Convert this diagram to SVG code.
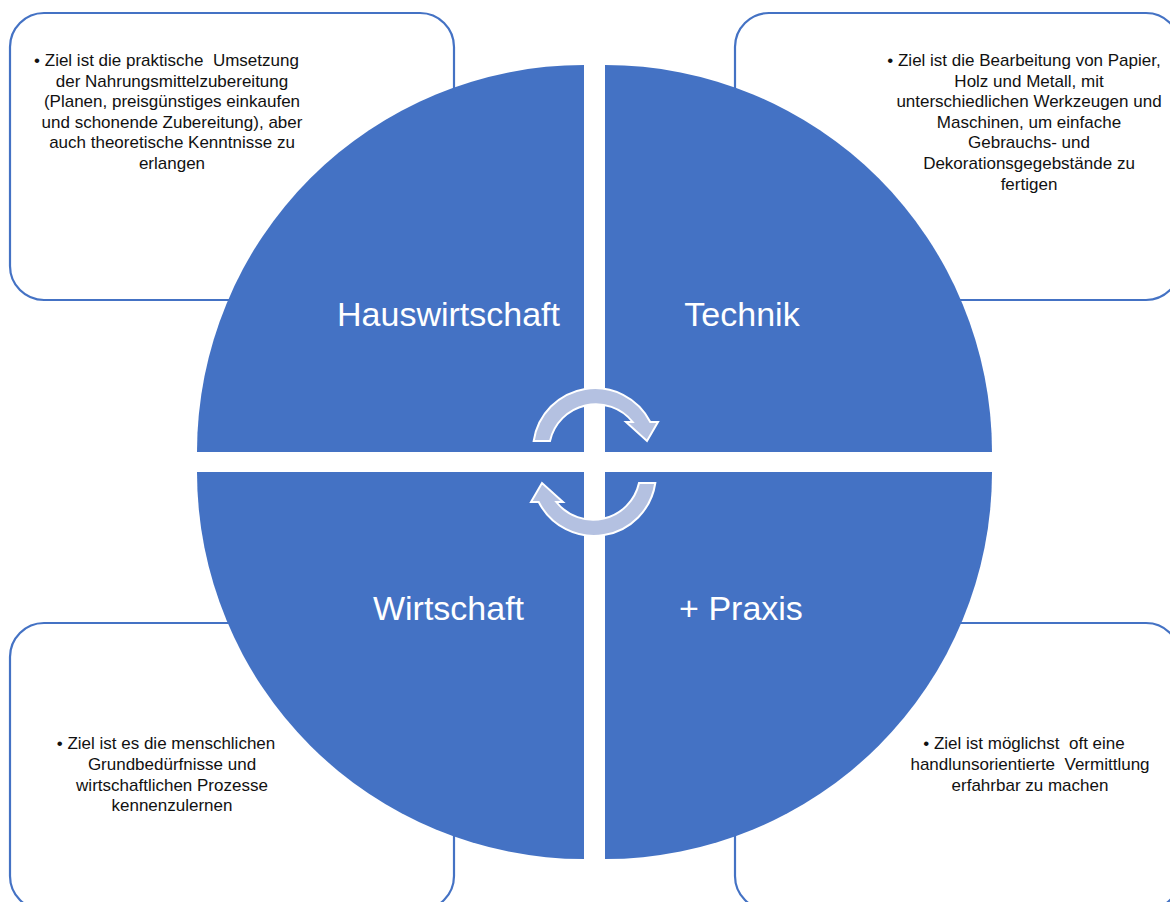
<svg xmlns="http://www.w3.org/2000/svg" width="1170" height="902" viewBox="0 0 1170 902">
<style>
.box{fill:#fff;stroke:#4472C4;stroke-width:2.2}
.q{fill:#4472C4}
.lbl{font-family:"Liberation Sans",Arial,sans-serif;font-size:34px;fill:#fff;text-anchor:middle}
.txt{font-family:"Liberation Sans",Arial,sans-serif;font-size:17px;fill:#111;text-anchor:middle;white-space:pre}
.arr{fill:#B4C1E1;stroke:#fff;stroke-width:2}
</style>
<rect width="1170" height="902" fill="#fff"/>
<g id="box-hauswirtschaft">
<rect class="box" x="10" y="13" width="444" height="287" rx="34"/>
<text class="txt" xml:space="preserve"><tspan x="166.5" y="66">• Ziel ist die praktische  Umsetzung</tspan><tspan x="172" y="86.6">der Nahrungsmittelzubereitung</tspan><tspan x="172" y="107.2">(Planen, preisgünstiges einkaufen</tspan><tspan x="172" y="127.8">und schonende Zubereitung), aber</tspan><tspan x="172" y="148.4">auch theoretische Kenntnisse zu</tspan><tspan x="172" y="169">erlangen</tspan></text>
</g>
<g id="box-technik">
<rect class="box" x="735" y="13" width="445" height="287" rx="34"/>
<text class="txt" xml:space="preserve"><tspan x="1024" y="66">• Ziel ist die Bearbeitung von Papier,</tspan><tspan x="1029" y="86.6">Holz und Metall, mit</tspan><tspan x="1029" y="107.2">unterschiedlichen Werkzeugen und</tspan><tspan x="1029" y="127.8">Maschinen, um einfache</tspan><tspan x="1029" y="148.4">Gebrauchs- und</tspan><tspan x="1029" y="169">Dekorationsgegebstände zu</tspan><tspan x="1029" y="189.6">fertigen</tspan></text>
</g>
<g id="box-wirtschaft">
<rect class="box" x="10" y="623" width="444" height="287" rx="34"/>
<text class="txt" xml:space="preserve"><tspan x="166" y="749.3">• Ziel ist es die menschlichen</tspan><tspan x="172" y="769.9">Grundbedürfnisse und</tspan><tspan x="172" y="790.5">wirtschaftlichen Prozesse</tspan><tspan x="172" y="811.1">kennenzulernen</tspan></text>
</g>
<g id="box-praxis">
<rect class="box" x="735" y="623" width="445" height="287" rx="34"/>
<text class="txt" xml:space="preserve"><tspan x="1024" y="749.3">• Ziel ist möglichst  oft eine</tspan><tspan x="1030" y="769.9">handlunsorientierte  Vermittlung</tspan><tspan x="1030" y="790.5">erfahrbar zu machen</tspan></text>
</g>
<g id="q-hauswirtschaft">
<path class="q" d="M584 452 L197 452 A387 387 0 0 1 584 65 Z"/>
<text class="lbl" x="448.5" y="326">Hauswirtschaft</text>
</g>
<g id="q-technik">
<path class="q" d="M605 452 L605 65 A387 387 0 0 1 992 452 Z"/>
<text class="lbl" x="742" y="326">Technik</text>
</g>
<g id="q-wirtschaft">
<path class="q" d="M584 472 L584 859 A387 387 0 0 1 197 472 Z"/>
<text class="lbl" x="448.5" y="620">Wirtschaft</text>
</g>
<g id="q-praxis">
<path class="q" d="M605 472 L992 472 A387 387 0 0 1 605 859 Z"/>
<text class="lbl" x="741" y="620">+ Praxis</text>
</g>
<g id="connectors">
<path id="arrow-top" class="arr" d="M533.7 441 A62 62 0 0 1 650.3 422 L658 422 L647 441 L626 422 L632.7 422 A47 47 0 0 0 550 441 Z"/>
<path id="arrow-bottom" class="arr" transform="rotate(180 594.5 462)" d="M533.7 441 A62 62 0 0 1 650.3 422 L658 422 L647 441 L626 422 L632.7 422 A47 47 0 0 0 550 441 Z"/>
</g>
</svg>
